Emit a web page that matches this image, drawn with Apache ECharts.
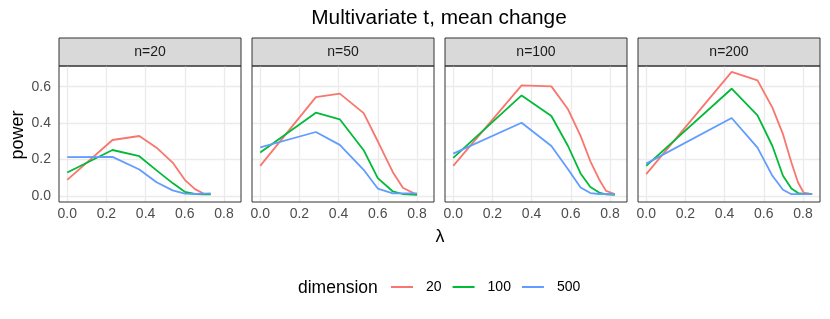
<!DOCTYPE html>
<html><head><meta charset="utf-8">
<script src="https://cdn.jsdelivr.net/npm/echarts@6/dist/echarts.min.js"></script>
<style>html,body{margin:0;padding:0;background:#fff}#c{width:830px;height:319px}</style>
</head><body><div id="c"></div>
<script>
const panels = ['n=20', 'n=50', 'n=100', 'n=200'];
const dimensions = ['20', '100', '500'];
const xTicks = [0, 0.2, 0.4, 0.6, 0.8];
const yTicks = [0, 0.2, 0.4, 0.6];

const lambda_n20 = [0, 0.231, 0.368, 0.456, 0.538, 0.60, 0.652, 0.698, 0.732];
const n20_d20  = [0.088, 0.307, 0.329, 0.265, 0.183, 0.088, 0.037, 0.011, 0.011];
const n20_d100 = [0.128, 0.252, 0.218, 0.140, 0.070, 0.022, 0.010, 0.008, 0.008];
const n20_d500 = [0.213, 0.214, 0.145, 0.075, 0.030, 0.012, 0.010, 0.012, 0.013];

const lambda_n50 = [0, 0.284, 0.406, 0.528, 0.60, 0.677, 0.728, 0.80];
const n50_d20  = [0.165, 0.543, 0.562, 0.455, 0.300, 0.130, 0.044, 0.005];
const n50_d100 = [0.238, 0.457, 0.421, 0.251, 0.097, 0.024, 0.010, 0.005];
const n50_d500 = [0.267, 0.351, 0.280, 0.143, 0.040, 0.013, 0.013, 0.013];

const lambda_n100 = [0, 0.349, 0.501, 0.586, 0.65, 0.70, 0.745, 0.78, 0.825];
const n100_d20  = [0.165, 0.607, 0.602, 0.476, 0.330, 0.190, 0.090, 0.027, 0.010];
const n100_d100 = [0.209, 0.552, 0.439, 0.274, 0.123, 0.049, 0.018, 0.008, 0.005];
const n100_d500 = [0.232, 0.402, 0.274, 0.146, 0.046, 0.015, 0.010, 0.010, 0.010];

const lambda_n200 = [0, 0.436, 0.568, 0.644, 0.698, 0.741, 0.775, 0.803, 0.847];
const n200_d20  = [0.119, 0.682, 0.635, 0.485, 0.339, 0.183, 0.073, 0.018, 0.009];
const n200_d100 = [0.165, 0.589, 0.443, 0.274, 0.110, 0.040, 0.015, 0.010, 0.009];
const n200_d500 = [0.177, 0.428, 0.265, 0.110, 0.033, 0.009, 0.009, 0.009, 0.009];

const lambdas = [lambda_n20, lambda_n50, lambda_n100, lambda_n200];
const powers = [
  [n20_d20, n20_d100, n20_d500],
  [n50_d20, n50_d100, n50_d500],
  [n100_d20, n100_d100, n100_d500],
  [n200_d20, n200_d100, n200_d500]
];
const colors = ['#F8766D', '#00BA38', '#619CFF'];

const FONT = '"Liberation Sans", Arial, sans-serif';
const grids = [], xAxes = [], yAxes = [], series = [], graphics = [];
const PL = 59, PW = 182, GAP = 11, PT = 66, PH = 136;

panels.forEach((p, i) => {
  const left = PL + i * (PW + GAP);
  grids.push({left: left, top: PT, width: PW, height: PH, show: true,
    borderColor: '#333333', borderWidth: 1, backgroundColor: 'transparent', containLabel: false, z: 4});
  xAxes.push({type: 'value', gridIndex: i, min: -0.042, max: 0.887,
    axisLine: {show: false},
    axisTick: {show: true, length: 3, lineStyle: {color: '#333333'}, customValues: xTicks},
    axisLabel: {show: true, customValues: xTicks, color: '#4D4D4D', fontSize: 14, fontFamily: FONT, margin: 5,
      formatter: v => v.toFixed(1)},
    splitLine: {show: false}
  });
  yAxes.push({type: 'value', gridIndex: i, min: -0.034, max: 0.714,
    axisLine: {show: false},
    axisTick: {show: i === 0, length: 3, lineStyle: {color: '#333333'}, customValues: yTicks},
    axisLabel: {show: i === 0, customValues: yTicks, color: '#4D4D4D', fontSize: 14, fontFamily: FONT, margin: 8,
      formatter: v => v.toFixed(1)},
    splitLine: {show: false}
  });
  series.push({type: 'line', name: 'grid' + i, xAxisIndex: i, yAxisIndex: i, data: [], z: 1,
    silent: true, animation: false,
    markLine: {z: 1, silent: true, symbol: ['none', 'none'], label: {show: false}, animation: false,
      lineStyle: {color: '#EBEBEB', type: 'solid', width: 1.3},
      emphasis: {disabled: true},
      data: xTicks.map(v => ({xAxis: v})).concat(yTicks.map(v => ({yAxis: v})))}
  });
  dimensions.forEach((d, k) => {
    series.push({type: 'line', name: d, xAxisIndex: i, yAxisIndex: i,
      data: lambdas[i].map((x, j) => [x, powers[i][k][j]]),
      symbol: 'none', showSymbol: false, color: colors[k],
      lineStyle: {color: colors[k], width: 1.8}, z: 3, animation: false});
  });
  graphics.push({type: 'rect', x: left, y: 38, shape: {width: PW, height: 28},
    style: {fill: '#D9D9D9', stroke: '#333333', lineWidth: 1}});
  graphics.push({type: 'text', x: left + PW / 2, y: 52, style: {text: p, fill: '#1A1A1A',
    font: '14px ' + FONT, textAlign: 'center', textVerticalAlign: 'middle'}});
});

graphics.push({type: 'text', x: 439, y: 18, style: {text: 'Multivariate t, mean change', fill: '#000',
  font: '20.8px ' + FONT, textAlign: 'center', textVerticalAlign: 'middle'}});
graphics.push({type: 'text', x: 18, y: 135, rotation: Math.PI / 2, style: {text: 'power', fill: '#000',
  font: '18px ' + FONT, textAlign: 'center', textVerticalAlign: 'middle'}});
graphics.push({type: 'text', x: 440, y: 237, style: {text: 'λ', fill: '#000',
  font: '18px ' + FONT, textAlign: 'center', textVerticalAlign: 'middle'}});
graphics.push({type: 'text', x: 298, y: 288, style: {text: 'dimension', fill: '#000',
  font: '17.5px ' + FONT, textAlign: 'left', textVerticalAlign: 'middle'}});

const option = {
  animation: false,
  backgroundColor: '#fff',
  grid: grids, xAxis: xAxes, yAxis: yAxes, series: series,
  legend: {data: dimensions, left: 391, top: 280, orient: 'horizontal', itemWidth: 22, itemHeight: 2,
    icon: 'rect', itemGap: 11, padding: 0,
    textStyle: {fontSize: 14, fontFamily: FONT, color: '#000', padding: [0, 0, 0, 8]}},
  graphic: graphics
};
const chart = echarts.init(document.getElementById('c'), null, {renderer: 'canvas'});
chart.setOption(option);
</script></body></html>
